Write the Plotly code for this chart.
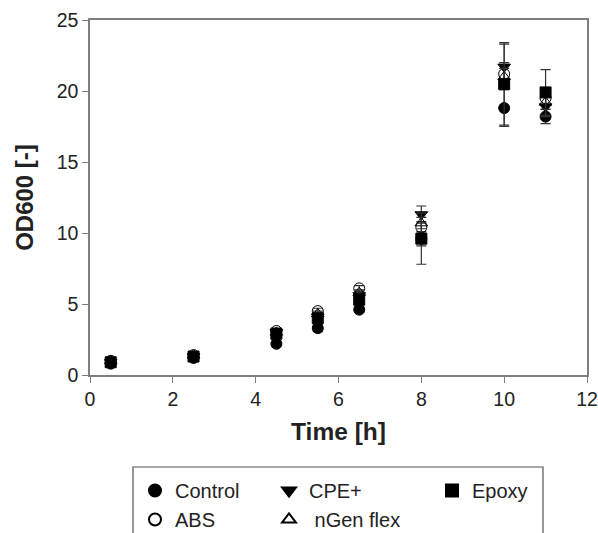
import plotly.graph_objects as go

time_h = [0.5, 2.5, 4.5, 5.5, 6.5, 8, 10, 11]

control = [0.8, 1.2, 2.2, 3.3, 4.6, 9.6, 18.8, 18.2]
control_err = [0.2, 0.2, 0.15, 0.25, 0.2, 0.5, 1.3, 0.5]
abs_ = [1.0, 1.4, 3.1, 4.5, 6.1, 10.4, 21.2, 19.5]
abs_err = [0.2, 0.2, 0.2, 0.2, 0.2, 0.4, 0.8, 0.5]
cpe = [0.9, 1.3, 3.0, 4.1, 5.6, 11.3, 21.7, 18.9]
cpe_err = [0.2, 0.2, 0.2, 0.25, 0.3, 0.6, 1.6, 0.7]
ngen = [1.0, 1.4, 3.0, 4.3, 5.8, 10.7, 21.0, 19.2]
ngen_err = [0.2, 0.2, 0.2, 0.2, 0.2, 0.4, 0.6, 0.5]
epoxy = [0.9, 1.3, 2.9, 4.0, 5.3, 9.6, 20.5, 19.9]
epoxy_err = [0.2, 0.2, 0.2, 0.2, 0.3, 1.8, 2.9, 1.6]

series = [
    ("Control", control, control_err, "circle", "legend"),
    ("ABS", abs_, abs_err, "circle-open", "legend"),
    ("CPE+", cpe, cpe_err, "triangle-down", "legend2"),
    (" nGen flex", ngen, ngen_err, "triangle-up-open", "legend2"),
    ("Epoxy", epoxy, epoxy_err, "square", "legend3"),
]

fig = go.Figure()
for name, vals, err, sym, leg in series:
    fig.add_trace(go.Scatter(
        x=time_h, y=vals, mode="markers", name=name, legend=leg,
        marker=dict(symbol=sym, size=11, color="black", line=dict(color="black", width=1)),
        error_y=dict(type="data", array=err, visible=True, color="#333333", thickness=1.2, width=5),
    ))

font = "Liberation Sans, Arial, sans-serif"
axis_common = dict(
    showline=True, linecolor="#7f7f7f", linewidth=1.5, mirror=True,
    ticks="outside", ticklen=6, tickcolor="#7f7f7f", tickwidth=1.2,
    showgrid=False, zeroline=False,
    tickfont=dict(family=font, size=19.5, color="#222222"),
)

legend_common = dict(
    orientation="v", bgcolor="rgba(0,0,0,0)", borderwidth=0,
    font=dict(family=font, size=20, color="#222222"),
    xref="paper", yref="paper", xanchor="left", yanchor="top",
    tracegroupgap=0, itemsizing="constant",
)

PW, PH = 497, 355  # plot area size in px
def px_x(p):
    return (p - 90) / PW
def px_y(p):
    return (375 - p) / PH

fig.update_layout(
    width=598, height=533,
    margin=dict(l=90, r=11, t=20, b=158, autoexpand=False),
    paper_bgcolor="white", plot_bgcolor="white",
    showlegend=True,
    xaxis=dict(range=[0, 12], tickvals=[0, 2, 4, 6, 8, 10, 12],
               title=dict(text="<b>Time [h]</b>", font=dict(family=font, size=24.5, color="#222222"), standoff=14),
               **axis_common),
    yaxis=dict(range=[0, 25], tickvals=[0, 5, 10, 15, 20, 25],
               title=dict(text="<b>OD600 [-]</b>", font=dict(family=font, size=24, color="#222222"), standoff=16),
               **axis_common),
    legend=dict(x=px_x(135), y=px_y(471), **legend_common),
    legend2=dict(x=px_x(269), y=px_y(471), **legend_common),
    legend3=dict(x=px_x(432), y=px_y(471), **legend_common),
    shapes=[dict(type="rect", xref="paper", yref="paper",
                 x0=px_x(133), x1=px_x(543),
                 y0=px_y(545), y1=px_y(467),
                 line=dict(color="#555555", width=1.2), fillcolor="rgba(0,0,0,0)", layer="below")],
)

fig.write_html(
    "out.html",
    config={"displayModeBar": False},
    post_script="document.body.style.margin='0';document.body.style.overflow='hidden';",
)
